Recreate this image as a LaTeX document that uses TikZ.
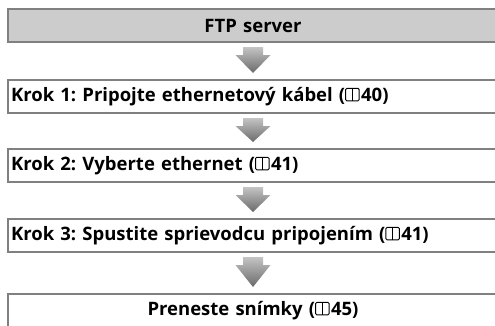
\documentclass[tikz,border=0pt]{standalone}
\usepackage{fontspec}
\setmainfont{Open Sans}
\usetikzlibrary{calc}
\definecolor{bordergray}{HTML}{808080}
\definecolor{headfill}{HTML}{CCCCCC}
\definecolor{arrtop}{HTML}{C4C4C4}
\definecolor{arrbot}{HTML}{6A6A6A}
\newcommand{\bookref}{\tikz[baseline=-0.5pt,x=1pt,y=1pt]{\draw[line width=0.9pt,rounded corners=1.2pt] (0,0) rectangle (13.5,12.5); \draw[line width=0.9pt] (6.75,0)--(6.75,12.5);}\hspace{1.5pt}}
\begin{document}
\frenchspacing
\begin{tikzpicture}[x=1pt,y=-1pt,
  font=\fontsize{18.5}{22}\selectfont\bfseries\frenchspacing,
  box/.style={draw=bordergray, line width=2pt, minimum height=33pt,
    minimum width=490pt, text width=484pt, inner xsep=3pt, inner ysep=0pt,
    anchor=north west},
  flowarrow/.style={shading=axis, top color=arrtop, bottom color=arrbot, draw=none}]
\useasboundingbox (0,0) rectangle (495,325);
\node[box, fill=headfill, align=center] (b0) at (7,8) {FTP server};
\node[box, align=left] (b1) at (7,79) {Krok 1: Pripojte ethernetový kábel (\bookref40)};
\node[box, align=left] (b2) at (7,148) {Krok 2: Vyberte ethernet (\bookref41)};
\node[box, align=left] (b3) at (7,218) {Krok 3: Spustite sprievodcu pripojením (\bookref41)};
\node[box, align=center] (b4) at (7,293) {Preneste snímky (\bookref45)};
\foreach \a/\b in {b0/b1,b1/b2,b2/b3,b3/b4}{
  \path[flowarrow] ($(\a.south)+(-10,4)$) -- ++(20,0) -- ++(0,8) -- ++(7.5,0)
    -- ($(\b.north)+(0,-6)$) -- ($(\a.south)+(-17.5,12)$) -- ++(7.5,0) -- cycle;
}
\end{tikzpicture}
\end{document}
